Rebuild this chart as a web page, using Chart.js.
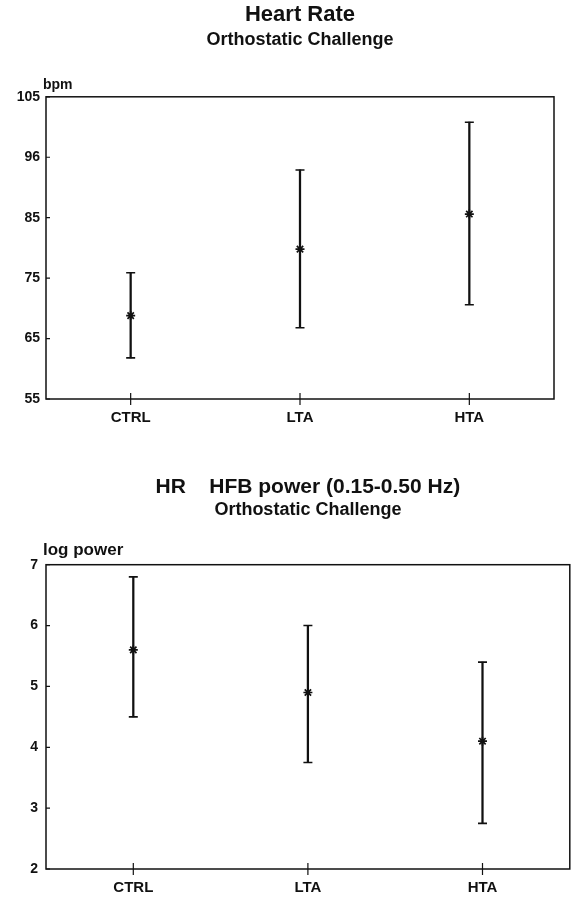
<!DOCTYPE html>
<html>
<head>
<meta charset="utf-8">
<title>Heart Rate / HFB power - Orthostatic Challenge</title>
<script src="https://cdn.jsdelivr.net/npm/chart.js@4.4.1/dist/chart.umd.min.js"></script>
<style>
  html, body { margin: 0; padding: 0; background: #fff; overflow: hidden; }
  canvas { display: block; }
</style>
</head>
<body>
<canvas id="hr" width="576" height="450"></canvas>
<canvas id="hfb" width="576" height="451"></canvas>
<script>
// groups on the x axis
const groups = ['CTRL', 'LTA', 'HTA'];

// heart rate (bpm): mean and error bar ends
const hrMean = [68.8, 79.8, 85.6];
const hrLow = [61.8, 66.8, 70.6];
const hrHigh = [75.9, 92.9, 100.8];
const hrTickLabels = ['55', '65', '75', '85', '96', '105'];

// HFB log power
const hfbMean = [5.6, 4.9, 4.1];
const hfbLow = [4.5, 3.75, 2.75];
const hfbHigh = [6.8, 6.0, 5.4];
const hfbTickLabels = ['2', '3', '4', '5', '6', '7'];

const ink = '#111';
Chart.defaults.font.family = '"Liberation Sans", Arial, sans-serif';
Chart.defaults.color = ink;

// box around the plot, small tick marks, unit label over the y axis
const boxFrame = {
  id: 'boxFrame',
  afterDraw(chart, args, opts) {
    const {ctx, chartArea: a, scales: {x, y}} = chart;
    ctx.save();
    ctx.strokeStyle = ink;
    ctx.lineWidth = 1.5;
    ctx.strokeRect(a.left, a.top, a.right - a.left, a.bottom - a.top);
    ctx.lineWidth = 1.2;
    ctx.beginPath();
    y.ticks.forEach((t, i) => {
      const py = y.getPixelForTick(i);
      ctx.moveTo(a.left, py);
      ctx.lineTo(a.left + 4, py);
    });
    x.ticks.forEach((t, i) => {
      const px = x.getPixelForTick(i);
      ctx.moveTo(px, a.bottom - 6);
      ctx.lineTo(px, a.bottom + 6);
    });
    ctx.stroke();
    ctx.fillStyle = ink;
    ctx.font = opts.font;
    ctx.textAlign = 'left';
    ctx.textBaseline = 'alphabetic';
    ctx.fillText(opts.unit, a.left - 3, a.top - opts.gap);
    ctx.restore();
  }
};

function errorChart(id, o) {
  return new Chart(document.getElementById(id), {
    data: {
      labels: groups,
      datasets: [
        { type: 'bar', data: o.low.map((v, i) => [v, o.high[i]]), backgroundColor: ink, barThickness: 1.6 },
        { type: 'line', data: o.high, showLine: false, pointStyle: 'line', pointRadius: 4.5,
          pointBorderWidth: 1.6, pointBorderColor: ink, pointBackgroundColor: ink },
        { type: 'line', data: o.low, showLine: false, pointStyle: 'line', pointRadius: 4.5,
          pointBorderWidth: 1.6, pointBorderColor: ink, pointBackgroundColor: ink },
        { type: 'line', data: o.mean, showLine: false, pointStyle: 'star', pointRadius: 4.5,
          pointBorderWidth: 1.7, pointBorderColor: ink, pointBackgroundColor: ink }
      ]
    },
    options: {
      responsive: false,
      animation: false,
      layout: { padding: { left: 0, right: o.right, top: 0, bottom: 0 } },
      plugins: {
        legend: { display: false },
        tooltip: { enabled: false },
        // not full size, so the titles centre over the plot box
        title: {
          display: true, fullSize: false, text: o.title, color: ink,
          font: { size: o.titleSize, weight: 'bold', lineHeight: 1.1 },
          padding: { top: o.titleTop, bottom: 0 }
        },
        subtitle: {
          display: true, fullSize: false, text: 'Orthostatic Challenge', color: ink,
          font: { size: 18, weight: 'bold', lineHeight: 1.2 },
          padding: { top: o.subTop, bottom: o.subBottom }
        },
        boxFrame: { unit: o.unit, gap: o.unitGap, font: 'bold ' + o.unitSize + 'px "Liberation Sans", Arial, sans-serif' }
      },
      scales: {
        x: {
          offset: true,
          grid: { display: false, drawTicks: false },
          border: { display: false },
          ticks: { color: ink, font: { size: 15, weight: 'bold' }, padding: 10, maxRotation: 0 },
          afterFit: s => { s.height = o.xHeight; }
        },
        y: {
          min: o.min, max: o.max,
          grid: { display: false, drawTicks: false },
          border: { display: false },
          ticks: {
            stepSize: o.step, color: ink, padding: o.tickPad,
            font: { size: 14, weight: 'bold' },
            callback: (v, i) => o.tickLabels[i]
          },
          afterFit: s => { s.width = 46; }
        }
      }
    },
    plugins: [boxFrame]
  });
}

errorChart('hr', {
  title: 'Heart Rate', titleSize: 22, titleTop: 3, subTop: 2, subBottom: 46,
  mean: hrMean, low: hrLow, high: hrHigh,
  min: 55, max: 105, step: 10, tickLabels: hrTickLabels, tickPad: 6,
  right: 22, xHeight: 51, unit: 'bpm', unitSize: 14, unitGap: 8
});

errorChart('hfb', {
  title: 'HR    HFB power (0.15-0.50 Hz)', titleSize: 21, titleTop: 26, subTop: 0, subBottom: 44,
  mean: hfbMean, low: hfbLow, high: hfbHigh,
  min: 2, max: 7, step: 1, tickLabels: hfbTickLabels, tickPad: 8,
  right: 6, xHeight: 32, unit: 'log power', unitSize: 17, unitGap: 10
});
</script>
</body>
</html>
